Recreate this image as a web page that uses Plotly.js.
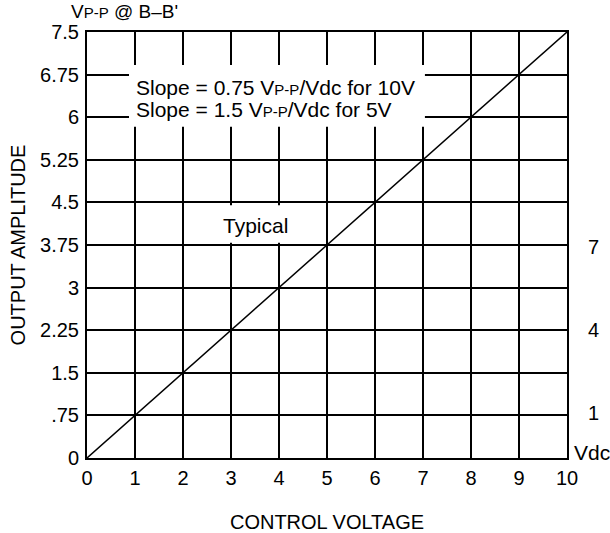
<!DOCTYPE html>
<html>
<head>
<meta charset="utf-8">
<script src="https://cdn.plot.ly/plotly-3.0.1.min.js"></script>
<style>html,body{margin:0;padding:0;background:#fff}#chart{width:610px;height:533px}</style>
</head>
<body>
<div id="chart"></div>
<script>
// Data
const controlVoltage = [0, 10];
const outputAmplitude = [0, 7.5];
const xTickVals = [0, 1, 2, 3, 4, 5, 6, 7, 8, 9, 10];
const xTickText = ['0', '1', '2', '3', '4', '5', '6', '7', '8', '9', '10'];
const yTickVals = [0, 0.75, 1.5, 2.25, 3, 3.75, 4.5, 5.25, 6, 6.75, 7.5];
const yTickText = ['0', '.75', '1.5', '2.25', '3', '3.75', '4.5', '5.25', '6', '6.75', '7.5'];
const sideLabels = ['7', '4', '1'];

const FONT = 'Liberation Sans, Arial, Helvetica, sans-serif';
const FS = 20;
const SUB = "<span style='font-size:15px'>P-P</span>";

const trace = {
  x: controlVoltage, y: outputAmplitude, type: 'scatter', mode: 'lines',
  line: {color: '#000', width: 1.5}, hoverinfo: 'skip', showlegend: false
};

const annotations = [
  {xref: 'paper', yref: 'paper', x: 0.078, y: 1.047, xanchor: 'center', yanchor: 'middle', showarrow: false,
   borderpad: 0, text: "V" + SUB + " @ B–B'", font: {size: 19, color: '#000', family: FONT}},
  {xref: 'x', yref: 'y', x: 0.98, y: 6.53, xanchor: 'left', yanchor: 'middle', showarrow: false,
   text: "Slope = 0.75 V" + SUB + "/Vdc for 10V", font: {size: 21, color: '#000', family: FONT}},
  {xref: 'x', yref: 'y', x: 0.98, y: 6.14, xanchor: 'left', yanchor: 'middle', showarrow: false,
   text: "Slope = 1.5 V" + SUB + "/Vdc for 5V", font: {size: 21, color: '#000', family: FONT}},
  {xref: 'x', yref: 'y', x: 3.5, y: 4.1, xanchor: 'center', yanchor: 'middle', showarrow: false,
   text: 'Typical', font: {size: 21, color: '#000', family: FONT}},
  {xref: 'paper', yref: 'paper', x: 1.0104, y: 0.012, xanchor: 'left', yanchor: 'middle', showarrow: false,
   text: 'Vdc', font: {size: 21, color: '#000', family: FONT}}
];
const sideY = [3.71, 2.25, 0.79];
sideLabels.forEach((t, i) => annotations.push({
  xref: 'paper', yref: 'y', x: 1.04, y: sideY[i], xanchor: 'left', yanchor: 'middle', showarrow: false,
  text: t, font: {size: FS, color: '#000', family: FONT}
}));

const shapes = [
  {type: 'rect', xref: 'x', yref: 'y', x0: 0.875, x1: 7.04, y0: 5.83, y1: 6.92, layer: 'above',
   fillcolor: '#fff', line: {width: 0}},
  {type: 'rect', xref: 'x', yref: 'y', x0: 2.77, x1: 4.4, y0: 3.79, y1: 4.45, layer: 'above',
   fillcolor: '#fff', line: {width: 0}}
];

const layout = {
  width: 610, height: 533,
  margin: {l: 87, r: 43, t: 32, b: 75, pad: 0},
  paper_bgcolor: '#fff', plot_bgcolor: '#fff',
  font: {family: FONT, size: FS, color: '#000'},
  showlegend: false,
  xaxis: {
    range: [0, 10], tickvals: xTickVals, ticktext: xTickText, ticks: '',
    showgrid: true, gridcolor: '#000', gridwidth: 2, zeroline: false,
    showline: true, linecolor: '#000', linewidth: 2, mirror: true,
    tickfont: {size: FS, family: FONT, color: '#000'}, ticklabelstandoff: 1,
    title: {text: 'CONTROL VOLTAGE', font: {size: FS, family: FONT, color: '#000'}, standoff: 27},
    automargin: false, fixedrange: true
  },
  yaxis: {
    range: [0, 7.5], tickvals: yTickVals, ticktext: yTickText, ticks: '',
    showgrid: true, gridcolor: '#000', gridwidth: 2, zeroline: false,
    showline: true, linecolor: '#000', linewidth: 2, mirror: true,
    tickfont: {size: FS, family: FONT, color: '#000'}, ticklabelstandoff: 2,
    title: {text: 'OUTPUT AMPLITUDE', font: {size: FS, family: FONT, color: '#000'}, standoff: 9},
    automargin: false, fixedrange: true
  },
  annotations: annotations,
  shapes: shapes
};

Plotly.newPlot('chart', [trace], layout, {displayModeBar: false, staticPlot: true});
</script>
</body>
</html>
